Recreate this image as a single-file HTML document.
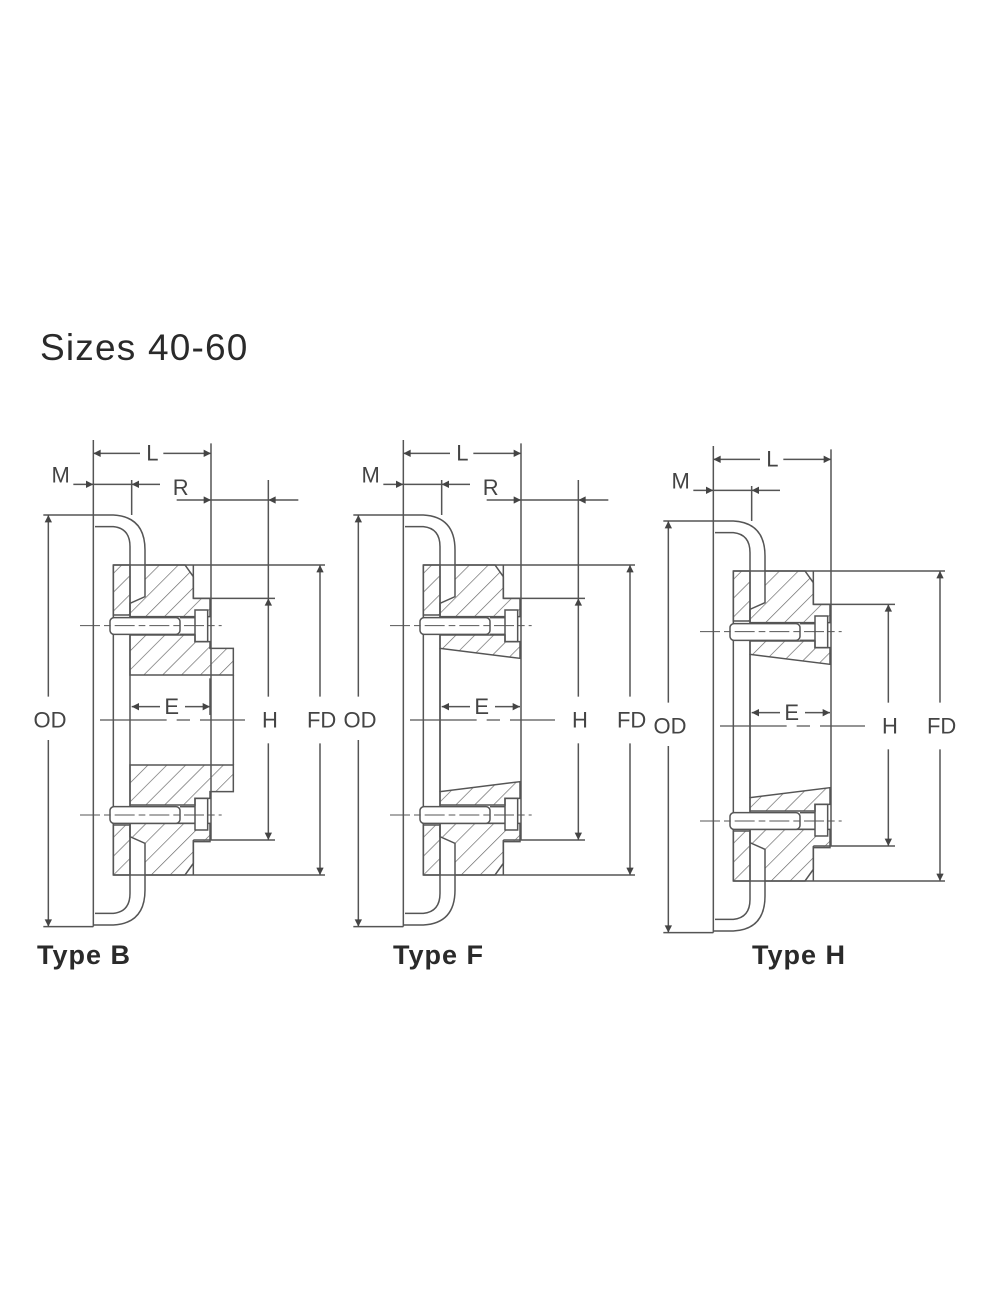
<!DOCTYPE html>
<html><head><meta charset="utf-8"><style>
html,body{margin:0;padding:0;background:#fff;}
body{width:1000px;height:1300px;position:relative;overflow:hidden;font-family:"Liberation Sans","DejaVu Sans",sans-serif;}
.t{position:absolute;color:#2a2a2a;}
</style></head><body>
<div class="t" style="left:40px;top:327px;font-size:37px;letter-spacing:1.2px;">Sizes 40-60</div>
<div class="t" style="left:37px;top:940px;font-size:27px;font-weight:bold;letter-spacing:1px;">Type B</div>
<div class="t" style="left:393px;top:940px;font-size:27px;font-weight:bold;letter-spacing:1px;">Type F</div>
<div class="t" style="left:752px;top:940px;font-size:27px;font-weight:bold;letter-spacing:1px;">Type H</div>
<svg width="1000" height="1300" style="position:absolute;left:0;top:0" xmlns="http://www.w3.org/2000/svg">
<defs>
<pattern id="h" width="40" height="40" patternUnits="userSpaceOnUse" patternTransform="rotate(45)">
<line x1="0" y1="0" x2="0" y2="40" stroke="#666" stroke-width="4"/>
</pattern>
<marker id="a" viewBox="0 0 10 10" refX="10" refY="5" markerUnits="userSpaceOnUse" markerWidth="40" markerHeight="22" orient="auto">
<path d="M0,0 L10,5 L0,10 z" fill="#444"/>
</marker>
<g id="base" fill="none" stroke="#555" stroke-width="4.5">
<path d="M190,255 L250,255 Q345,260 345,360 L345,405"/>
<path d="M195,290 L250,290 Q300,295 300,350 L300,405"/>
<path d="M190,1485 L250,1485 Q345,1480 345,1380 L345,1335"/>
<path d="M195,1450 L250,1450 Q300,1445 300,1390 L300,1335"/>
<line x1="190" y1="30" x2="190" y2="1490"/>
<line x1="300" y1="405" x2="300" y2="1335"/>
<line x1="250" y1="405" x2="250" y2="1335"/>
<line x1="250" y1="405" x2="885" y2="405"/>
<line x1="250" y1="1335" x2="885" y2="1335"/>
<line x1="543" y1="40" x2="543" y2="1230"/>
<line x1="490" y1="405" x2="490" y2="505"/>
<line x1="490" y1="505" x2="735" y2="505"/>
<line x1="490" y1="1335" x2="490" y2="1230"/>
<line x1="490" y1="1230" x2="735" y2="1230"/>
<polygon points="250,405 300,405 300,555 250,555" fill="url(#h)"/>
<polygon points="250,1185 300,1185 300,1335 250,1335" fill="url(#h)"/>
<polygon points="345,405 465,405 490,440 490,505 540,505 540,560 300,560 300,520 345,500" fill="url(#h)"/>
<polygon points="345,1335 465,1335 490,1300 490,1235 540,1235 540,1180 300,1180 300,1220 345,1240" fill="url(#h)"/>
<rect x="240" y="563" width="210" height="50" rx="12" fill="#fff"/>
<rect x="495" y="540" width="38" height="95" fill="#fff"/>
<line x1="450" y1="563" x2="495" y2="563"/><line x1="450" y1="613" x2="495" y2="613"/>
<rect x="240" y="1130" width="210" height="50" rx="12" fill="#fff"/>
<rect x="495" y="1105" width="38" height="95" fill="#fff"/>
<line x1="450" y1="1130" x2="495" y2="1130"/><line x1="450" y1="1180" x2="495" y2="1180"/>
<line x1="150" y1="587" x2="575" y2="587" stroke-dasharray="60,12,20,12" stroke-width="3"/>
<line x1="150" y1="1155" x2="575" y2="1155" stroke-dasharray="60,12,20,12" stroke-width="3"/>
<line x1="210" y1="870" x2="645" y2="870" stroke-dasharray="200,30,40,30" stroke-width="3.5"/>
<line x1="40" y1="255" x2="190" y2="255"/><line x1="40" y1="1490" x2="190" y2="1490"/>
<line x1="55" y1="800" x2="55" y2="255" marker-end="url(#a)"/>
<line x1="55" y1="930" x2="55" y2="1490" marker-end="url(#a)"/>
<line x1="330" y1="70" x2="190" y2="70" marker-end="url(#a)"/>
<line x1="400" y1="70" x2="543" y2="70" marker-end="url(#a)"/>
<line x1="305" y1="150" x2="305" y2="255"/>
<line x1="130" y1="163" x2="190" y2="163" marker-end="url(#a)"/>
<line x1="190" y1="163" x2="305" y2="163"/>
<line x1="390" y1="163" x2="305" y2="163" marker-end="url(#a)"/>
<line x1="715" y1="800" x2="715" y2="505" marker-end="url(#a)"/>
<line x1="715" y1="940" x2="715" y2="1230" marker-end="url(#a)"/>
<line x1="870" y1="800" x2="870" y2="405" marker-end="url(#a)"/>
<line x1="870" y1="940" x2="870" y2="1335" marker-end="url(#a)"/>
<line x1="390" y1="830" x2="305" y2="830" marker-end="url(#a)"/>
<line x1="465" y1="830" x2="540" y2="830" marker-end="url(#a)"/>
</g>
<g id="lblbase" fill="#444" font-family="Liberation Sans, sans-serif" font-size="66" text-anchor="middle">
<text x="60" y="893">OD</text>
<text x="720" y="893">H</text>
<text x="875" y="893">FD</text>
<text x="425" y="852">E</text>
<text x="367" y="92">L</text>
<text x="92" y="158">M</text>
</g>
<g id="rdim" fill="none" stroke="#555" stroke-width="4.5">
<line x1="715" y1="150" x2="715" y2="505"/>
<line x1="440" y1="210" x2="543" y2="210" marker-end="url(#a)"/>
<line x1="543" y1="210" x2="715" y2="210"/>
<line x1="805" y1="210" x2="715" y2="210" marker-end="url(#a)"/>
<text x="452" y="195" fill="#444" stroke="none" font-family="Liberation Sans, sans-serif" font-size="66" text-anchor="middle">R</text>
</g>
<g id="taper" fill="url(#h)" stroke="#555" stroke-width="4.5">
<polygon points="300,615 495,615 495,635 540,635 540,685 300,655"/>
<polygon points="300,1125 495,1125 495,1105 540,1105 540,1055 300,1085"/>
<line x1="300" y1="655" x2="300" y2="1085"/>
</g>
</defs>

<g transform="translate(30,430) scale(0.33333)">
<use href="#base"/><use href="#lblbase"/><use href="#rdim"/>
<g fill="url(#h)" stroke="#555" stroke-width="4.5">
<polygon points="300,615 495,615 495,635 540,635 540,655 610,655 610,735 300,735"/>
<polygon points="300,1125 495,1125 495,1105 540,1105 540,1085 610,1085 610,1005 300,1005"/>
<line x1="610" y1="735" x2="610" y2="1005"/>
<line x1="540" y1="745" x2="540" y2="855"/>
</g>
</g>
<g transform="translate(340,430) scale(0.33333)">
<use href="#base"/><use href="#lblbase"/><use href="#rdim"/><use href="#taper"/>
</g>
<g transform="translate(650,436) scale(0.33333)">
<use href="#base"/><use href="#lblbase"/><use href="#taper"/>
</g>
</svg>
</body></html>
